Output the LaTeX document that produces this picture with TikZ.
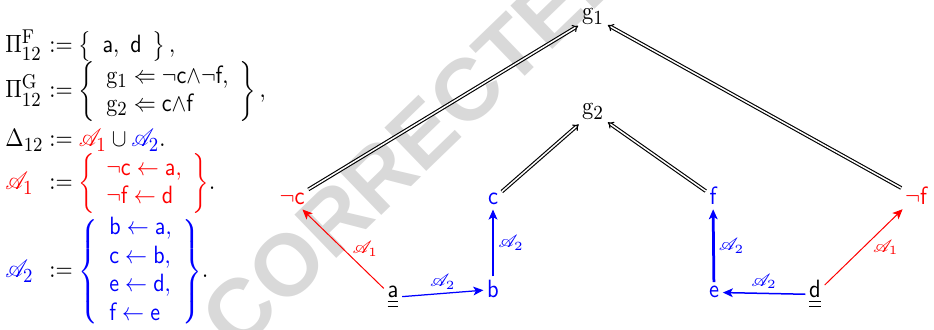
\documentclass[tikz,border=0pt]{standalone}
\usepackage{amsmath,amssymb}
\usepackage{mathrsfs}
\usepackage{fontspec}
\newfontfamily\wmfont{Liberation Sans}
\DeclareMathSizes{10}{10}{8}{6}
\usetikzlibrary{arrows.meta}
\tikzset{
  txt/.style={inner sep=0pt, anchor=base west, xscale=0.88},
  gn/.style={inner sep=1.5pt, anchor=base, xscale=0.9},
  impl/.style={double, line width=0.45pt, double distance=0.6pt, -{Implies}},
  hyp/.style={-{Stealth[length=4pt,width=3.5pt,inset=1pt]}},
  lab/.style={font=\scriptsize, inner sep=1.5pt},
  wm/.style={text=black!15, font=\wmfont\bfseries\fontsize{35}{35}\selectfont, rotate=44, inner sep=0pt}
}
\renewcommand{\arraystretch}{0.95}
\begin{document}
\begin{tikzpicture}[x=0.4pt,y=-0.4pt]
\useasboundingbox (0,0) rectangle (934,330);
\node[wm] (wmark) at (416,140) {CORRECTED};
% left-hand definitions
\node[txt] (pfl) at (5,53) {$\Pi^{\mathrm{F}}_{12}$};
\node[txt] (pfr) at (49,53) {$\mathrel{:=}\left\{\begin{array}{l}\mathsf{a},\ \mathsf{d}\end{array}\right\},$};
\node[txt] (pgl) at (5,98) {$\Pi^{\mathrm{G}}_{12}$};
\node[txt] (pgr) at (49,98) {$\mathrel{:=}\left\{\begin{array}{l}\mathrm{g}_1\Leftarrow\neg\mathsf{c}{\wedge}\neg\mathsf{f},\\ \mathrm{g}_2\Leftarrow\mathsf{c}{\wedge}\mathsf{f}\end{array}\right\},$};
\node[txt] (dl) at (5,147) {$\Delta_{12}$};
\node[txt] (dr) at (49,147) {$\mathrel{:=}{\color{red}\mathscr{A}_1}\cup{\color{blue}\mathscr{A}_2}.$};
\node[txt] (a1l) at (5,190) {$\color{red}\mathscr{A}_1$};
\node[txt] (a1r) at (49,190) {$\mathrel{:=}{\color{red}\left\{\begin{array}{l}\neg\mathsf{c}\leftarrow\mathsf{a},\\ \neg\mathsf{f}\leftarrow\mathsf{d}\end{array}\right\}}.$};
\node[txt] (a2l) at (5,278) {$\color{blue}\mathscr{A}_2$};
\node[txt] (a2r) at (49,278) {$\mathrel{:=}{\color{blue}\left\{\begin{array}{l}\mathsf{b}\leftarrow\mathsf{a},\\ \mathsf{c}\leftarrow\mathsf{b},\\ \mathsf{e}\leftarrow\mathsf{d},\\ \mathsf{f}\leftarrow\mathsf{e}\end{array}\right\}}.$};
% graph nodes
\node[gn] (g1) at (593,20) {$\mathrm{g}_1$};
\node[gn] (g2) at (593,115) {$\mathrm{g}_2$};
\node[gn,red] (nc) at (292,205) {$\neg\mathsf{c}$};
\node[gn,blue] (c) at (493,205) {$\mathsf{c}$};
\node[gn,blue] (f) at (713,205) {$\mathsf{f}$};
\node[gn,red] (nf) at (916,205) {$\neg\mathsf{f}$};
\node[gn] (a) at (393,298) {$\underline{\underline{\mathsf{a}}}$};
\node[gn,blue] (b) at (493,298) {$\mathsf{b}$};
\node[gn,blue] (e) at (714,298) {$\mathsf{e}$};
\node[gn] (d) at (815,298) {$\underline{\underline{\mathsf{d}}}$};
% goal arrows
\draw[impl] (nc) -- (g1);
\draw[impl] (nf) -- (g1);
\draw[impl] (c) -- (g2);
\draw[impl] (f) -- (g2);
% hypothesis arrows
\draw[hyp,red,line width=0.4pt] (a) -- node[lab,midway,anchor=west,xshift=2pt] {$\mathscr{A}_1$} (nc);
\draw[hyp,blue,line width=0.5pt] (a) -- node[lab,midway,above] {$\mathscr{A}_2$} (b);
\draw[hyp,blue,line width=1.1pt] (b) -- node[lab,midway,right] {$\mathscr{A}_2$} (c);
\draw[hyp,blue,line width=1.1pt] (e) -- node[lab,midway,right] {$\mathscr{A}_2$} (f);
\draw[hyp,blue,line width=0.6pt] (d) -- node[lab,midway,above] {$\mathscr{A}_2$} (e);
\draw[hyp,red,line width=0.4pt] (d) -- node[lab,midway,anchor=west,xshift=2pt] {$\mathscr{A}_1$} (nf);
\end{tikzpicture}
\end{document}
